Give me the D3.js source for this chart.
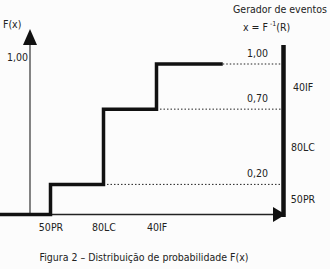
<!DOCTYPE html>
<html>
<head>
<meta charset="utf-8">
<script src="https://cdn.jsdelivr.net/npm/d3@7"></script>
<style>
  body { margin: 0; background: #fcfcfc; }
  svg { display: block; }
  text { font-family: "DejaVu Sans Condensed", "DejaVu Sans", sans-serif; font-size: 10.5px; fill: #222; }
</style>
</head>
<body>
<svg id="chart"></svg>
<script>
// eventos e probabilidades acumuladas
var categories = ["50PR", "80LC", "40IF"];
var cumulative = [0.20, 0.70, 1.00];
var levelLabels = ["0,20", "0,70", "1,00"];
var yTickLabel = "1,00";

var width = 330,
    height = 269;

var svg = d3.select("#chart")
    .attr("width", width)
    .attr("height", height);

var x = d3.scaleLinear()
    .domain([0, categories.length])
    .range([50.5, 209.5]);

var y = d3.scaleLinear()
    .domain([0, 1])
    .range([214.5, 64]);

var axisX = 30,     // posição do eixo F(x)
    barX = 283.5;   // barra do gerador de evento

// degraus: [x inicial, nível]
var steps = [[0, 0]];
categories.forEach(function(c, i) { steps.push([x(i), cumulative[i]]); });
steps.push([x(3.25), cumulative[cumulative.length - 1]]);

var line = d3.line()
    .x(function(d) { return d[0]; })
    .y(function(d) { return y(d[1]); })
    .curve(d3.curveStepAfter);

// eixo horizontal
svg.append("line")
    .attr("x1", 0).attr("x2", 274)
    .attr("y1", y(0)).attr("y2", y(0))
    .style("stroke", "#222")
    .style("stroke-width", 1.3);
svg.append("path")
    .attr("d", "M273," + (y(0) - 7.5) + "L285.5," + y(0) + "L273," + (y(0) + 7.5) + "Z")
    .style("fill", "#111");

// eixo vertical
svg.append("line")
    .attr("x1", axisX).attr("x2", axisX)
    .attr("y1", y(0)).attr("y2", 44)
    .style("stroke", "#333")
    .style("stroke-width", 1.2);
svg.append("path")
    .attr("d", "M" + (axisX - 7) + ",45L" + axisX + ",29L" + (axisX + 7) + ",45Z")
    .style("fill", "#111");

svg.append("text")
    .attr("x", 3).attr("y", 28)
    .text("F(x)");
svg.append("text")
    .attr("x", 28).attr("y", 61)
    .attr("text-anchor", "end")
    .text(yTickLabel);

// linhas pontilhadas até a barra
svg.selectAll(".dots")
    .data(cumulative)
  .enter().append("line")
    .attr("class", "dots")
    .attr("x1", function(d, i) { return i == cumulative.length - 1 ? x(3.25) : x(i + 1); })
    .attr("x2", barX)
    .attr("y1", function(d) { return y(d); })
    .attr("y2", function(d) { return y(d); })
    .style("stroke", "#222")
    .style("stroke-width", 1)
    .style("stroke-dasharray", "1.5,2");

// função degrau
svg.append("path")
    .datum(steps)
    .attr("d", line)
    .style("fill", "none")
    .style("stroke", "#111")
    .style("stroke-width", 3.5);

// barra do gerador
svg.append("line")
    .attr("x1", barX).attr("x2", barX)
    .attr("y1", 45).attr("y2", 217)
    .style("stroke", "#111")
    .style("stroke-width", 4.5);

svg.selectAll(".lvl")
    .data(levelLabels)
  .enter().append("text")
    .attr("class", "lvl")
    .attr("x", 268)
    .attr("y", function(d, i) { return y(cumulative[i]) - 7; })
    .attr("text-anchor", "end")
    .text(function(d) { return d; });

svg.selectAll(".seg")
    .data(categories)
  .enter().append("text")
    .attr("class", "seg")
    .attr("x", 303)
    .attr("y", function(d, i) {
        var lo = i == 0 ? 0 : cumulative[i - 1];
        return (y(lo) + y(cumulative[i])) / 2 + 4;
    })
    .attr("text-anchor", "middle")
    .text(function(d) { return d; });

// rótulos do eixo x
svg.selectAll(".cat")
    .data(categories)
  .enter().append("text")
    .attr("class", "cat")
    .attr("x", function(d, i) { return x(i) + 0.5; })
    .attr("y", 231)
    .attr("text-anchor", "middle")
    .text(function(d) { return d; });

svg.append("text")
    .attr("x", 233).attr("y", 13)
    .text("Gerador de eventos");
var f = svg.append("text")
    .attr("x", 243).attr("y", 31);
f.append("tspan").text("x = F");
f.append("tspan").attr("dy", -5).style("font-size", "7px").text(" -1");
f.append("tspan").attr("dy", 5).text("(R)");

svg.append("text")
    .attr("x", 144).attr("y", 261)
    .attr("text-anchor", "middle")
    .text("Figura 2 – Distribuição de probabilidade F(x)");
</script>
</body>
</html>
